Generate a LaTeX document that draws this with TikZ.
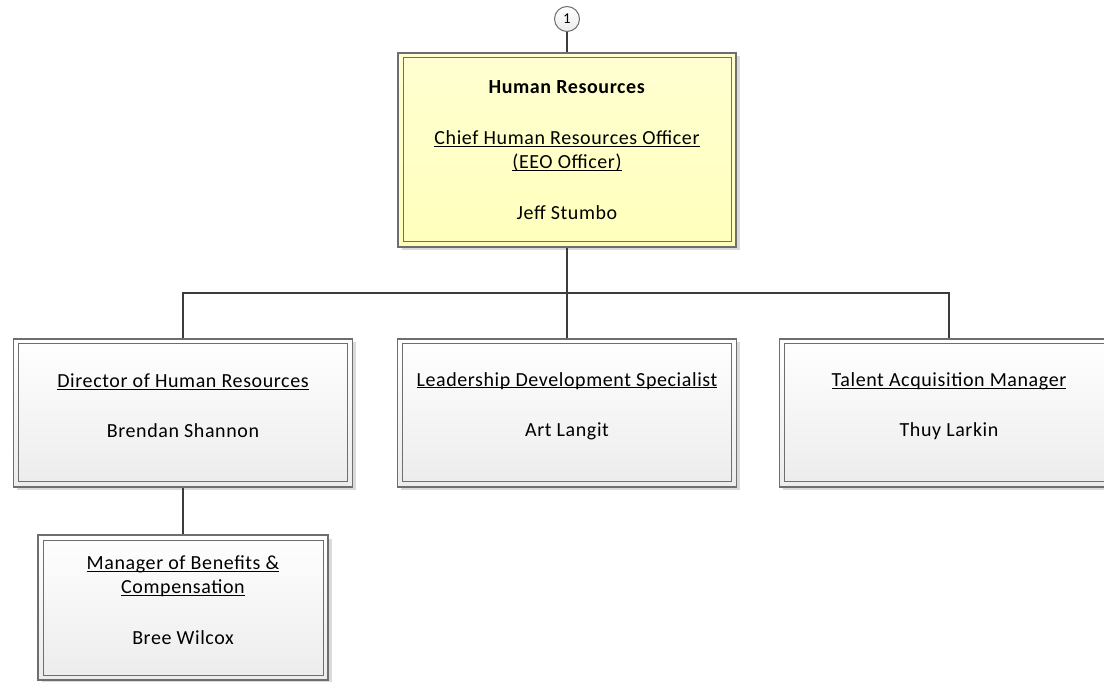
\documentclass[tikz,border=0pt]{standalone}
\usepackage{fontspec}
\setmainfont{Carlito}[LetterSpace=3]
\usetikzlibrary{shadows}
\definecolor{bordergray}{HTML}{6E6E6E}
\definecolor{conngray}{HTML}{3C3C3C}
\definecolor{yeltop}{HTML}{FFFFD2}
\definecolor{yelbot}{HTML}{FFFFBC}
\definecolor{graybot}{HTML}{ECECEC}
\definecolor{shadowgray}{HTML}{DADADA}
\newcommand\ulx[1]{\underline{\smash{#1}}}
\tikzset{
  orgbox/.style={draw=bordergray, line width=1.4pt, top color=white, bottom color=graybot,
    align=center, inner sep=0pt, font=\fontsize{20}{24}\selectfont,
    drop shadow={shadow xshift=3.5pt, shadow yshift=-3.5pt, fill=shadowgray, opacity=1},
    path picture={\draw[bordergray, line width=1pt]
        ([shift={(5pt,-5pt)}]path picture bounding box.north west) rectangle
        ([shift={(-5pt,5pt)}]path picture bounding box.south east);}},
  yelbox/.style={orgbox, top color=yeltop, bottom color=yelbot},
  conn/.style={draw=conngray, line width=2pt},
  pagebadge/.style={circle, draw=bordergray, line width=1pt, top color=white, bottom color=graybot,
    minimum size=25pt, inner sep=0pt, font=\fontsize{15}{17}\selectfont}
}
\begin{document}
\begin{tikzpicture}[x=1pt,y=1pt]
\useasboundingbox (0,0) rectangle (1104,681);
\clip (0,0) rectangle (1104,681);
\node[pagebadge] (pg) at (567,662) {1};
\node[yelbox, minimum width=338pt, minimum height=194pt] (hr) at (567,531)
  {\textbf{Human Resources}\\[27pt]\ulx{Chief Human Resources Officer}\\\ulx{(EEO Officer)}\\[27pt]Jeff Stumbo};
\node[orgbox, minimum width=339pt, minimum height=148pt] (dir) at (183,268)
  {\ulx{Director of Human Resources}\\[26pt]Brendan Shannon};
\node[orgbox, minimum width=339pt, minimum height=148pt] (lds) at (567,268)
  {\ulx{Leadership Development Specialist}\\[26pt]Art Langit};
\node[orgbox, minimum width=339pt, minimum height=148pt] (tam) at (949,268)
  {\ulx{Talent Acquisition Manager}\\[26pt]Thuy Larkin};
\node[orgbox, minimum width=290pt, minimum height=145pt] (mbc) at (183,73.5)
  {\ulx{Manager of Benefits \&}\\\ulx{Compensation}\\[27pt]Bree Wilcox};
\coordinate (bus) at (567,388);
\draw[conn] (pg.south) -- (hr.north);
\draw[conn] (hr.south) -- (lds.north);
\draw[conn] (dir.north) -- (dir.north |- bus) -- (tam.north |- bus) -- (tam.north);
\draw[conn] (dir.south) -- (mbc.north);
\end{tikzpicture}
\end{document}
